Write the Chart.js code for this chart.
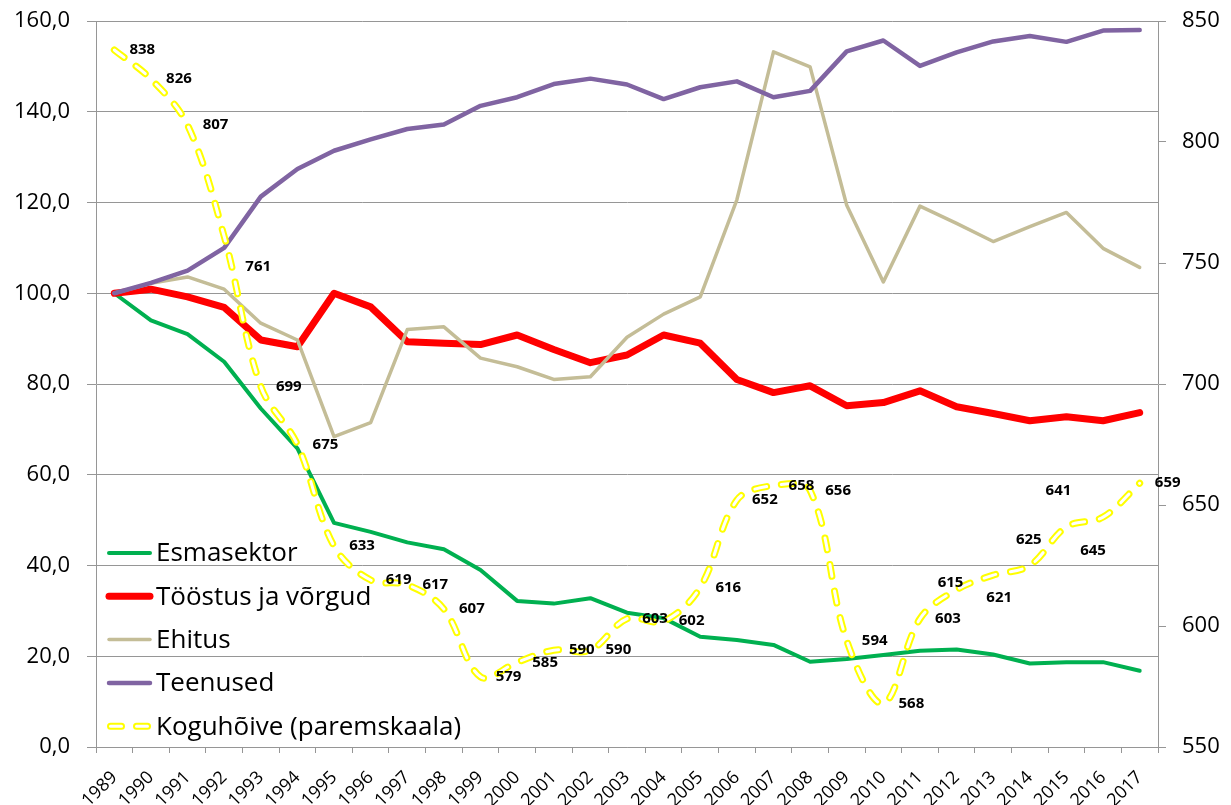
<!DOCTYPE html>
<html>
<head>
<meta charset="utf-8">
<script src="https://cdn.jsdelivr.net/npm/chart.js@4.4.1/dist/chart.umd.min.js"></script>
<style>
  html, body { margin: 0; padding: 0; background: #fff; }
  canvas { display: block; }
</style>
</head>
<body>
<canvas id="mainChart" width="1231" height="805"></canvas>
<script>
const years = ['1989', '1990', '1991', '1992', '1993', '1994', '1995', '1996', '1997', '1998',
  '1999', '2000', '2001', '2002', '2003', '2004', '2005', '2006', '2007', '2008',
  '2009', '2010', '2011', '2012', '2013', '2014', '2015', '2016', '2017'];

// left scale, index 1989 = 100
const esmasektor = [100, 94.0, 91.0, 84.9, 74.6, 65.8, 49.4, 47.4, 45.1, 43.6,
  39.0, 32.2, 31.6, 32.8, 29.6, 28.4, 24.3, 23.6, 22.5, 18.8,
  19.4, 20.3, 21.2, 21.5, 20.4, 18.4, 18.7, 18.7, 16.8];
const toostus = [100, 100.9, 99.2, 96.9, 89.7, 88.2, 100.0, 97.0, 89.3, 89.0,
  88.7, 90.8, 87.6, 84.7, 86.4, 90.8, 89.0, 81.0, 78.1, 79.6,
  75.2, 75.9, 78.5, 75.0, 73.5, 71.9, 72.8, 71.9, 73.7];
const ehitus = [100, 102.2, 103.6, 100.9, 93.4, 89.7, 68.4, 71.5, 92.0, 92.6,
  85.7, 83.8, 81.0, 81.6, 90.3, 95.4, 99.2, 120.6, 153.2, 149.9,
  119.4, 102.5, 119.2, 115.4, 111.4, 114.7, 117.8, 109.9, 105.7];
const teenused = [100, 102.3, 105.0, 110.0, 121.3, 127.4, 131.4, 133.9, 136.2, 137.2,
  141.3, 143.2, 146.1, 147.3, 146.0, 142.8, 145.4, 146.7, 143.2, 144.6,
  153.3, 155.7, 150.1, 153.1, 155.5, 156.7, 155.4, 157.9, 158.0];

// right scale, thousands
const koguhoive = [838, 826, 807, 761, 699, 675, 633, 619, 617, 607,
  579, 585, 590, 590, 603, 602, 616, 652, 658, 656,
  594, 568, 603, 615, 621, 625, 641, 645, 659];

// labels that were moved by hand in the original: index -> [dx, dy]
const labelMoves = { 3: [6, 30], 23: [-34, -7], 24: [-22, 23], 25: [-29, -26], 26: [-36, -36], 27: [-38, 34] };

const legendItems = ['Esmasektor', 'Tööstus ja võrgud', 'Ehitus', 'Teenused', 'Koguhõive (paremskaala)'];

const GREEN = '#00b050', RED = '#ff0000', TAN = '#c4bd97', PURPLE = '#8064a2', YELLOW = '#ffff00';
const GRID = '#969696';
const DASH = [12, 15];

Chart.defaults.font.family = "'Open Sans', 'DejaVu Sans', sans-serif";
Chart.defaults.color = '#000';

const labelPlugin = {
  id: 'pointLabels',
  afterDatasetsDraw(chart) {
    const ctx = chart.ctx;
    const meta = chart.getDatasetMeta(4);
    ctx.save();
    ctx.font = "bold 15px 'Open Sans', sans-serif";
    ctx.fillStyle = '#000';
    ctx.textAlign = 'center';
    ctx.textBaseline = 'middle';
    meta.data.forEach((pt, i) => {
      const mv = labelMoves[i] || [0, 0];
      ctx.fillText(String(koguhoive[i]), pt.x + 28 + mv[0], pt.y + mv[1]);
    });
    ctx.restore();
  }
};

const legendPlugin = {
  id: 'insideLegend',
  afterDatasetsDraw(chart) {
    const ctx = chart.ctx;
    const area = chart.chartArea;
    const x0 = area.left + 11, x1 = area.left + 56;
    const widths = [4, 7, 3.5, 4.5];
    const colors = [GREEN, RED, TAN, PURPLE];
    ctx.save();
    ctx.font = "26px 'Open Sans', sans-serif";
    ctx.textBaseline = 'middle';
    ctx.textAlign = 'left';
    legendItems.forEach((txt, i) => {
      const y = area.bottom - 194 + i * 43.3;
      ctx.lineCap = 'round';
      if (i < 4) {
        ctx.setLineDash([]);
        ctx.strokeStyle = colors[i];
        ctx.lineWidth = widths[i];
        ctx.beginPath();
        ctx.moveTo(x0 + 2, y);
        ctx.lineTo(x1 - 2, y);
        ctx.stroke();
      } else {
        ctx.setLineDash([11, 15]);
        ctx.strokeStyle = YELLOW;
        ctx.lineWidth = 7;
        ctx.beginPath();
        ctx.moveTo(x0 + 3.5, y);
        ctx.lineTo(x1 - 3, y);
        ctx.stroke();
        ctx.strokeStyle = '#fff';
        ctx.lineWidth = 3;
        ctx.beginPath();
        ctx.moveTo(x0 + 3.5, y);
        ctx.lineTo(x1 - 3, y);
        ctx.stroke();
        ctx.setLineDash([]);
      }
      ctx.fillStyle = '#000';
      ctx.fillText(txt, x1 + 4, y + 1);
    });
    ctx.restore();
  }
};

new Chart(document.getElementById('mainChart'), {
  type: 'line',
  data: {
    labels: years,
    datasets: [
      { label: 'Esmasektor', data: esmasektor, borderColor: GREEN, borderWidth: 4, yAxisID: 'y', order: 6 },
      { label: 'Tööstus ja võrgud', data: toostus, borderColor: RED, borderWidth: 7, yAxisID: 'y', order: 5 },
      { label: 'Ehitus', data: ehitus, borderColor: TAN, borderWidth: 3.5, yAxisID: 'y', order: 4 },
      { label: 'Teenused', data: teenused, borderColor: PURPLE, borderWidth: 4.5, yAxisID: 'y', order: 3 },
      { label: 'Koguhõive (paremskaala)', data: koguhoive, borderColor: YELLOW, borderWidth: 7,
        borderDash: DASH, borderCapStyle: 'round', tension: 0.35, yAxisID: 'y1', order: 2 },
      { label: 'inner', data: koguhoive, borderColor: '#ffffff', borderWidth: 3,
        borderDash: DASH, borderCapStyle: 'round', tension: 0.35, yAxisID: 'y1', order: 1 }
    ]
  },
  options: {
    responsive: false,
    animation: false,
    layout: { padding: { top: 21, left: 0, right: 0, bottom: 0 } },
    elements: {
      point: { radius: 0, hoverRadius: 0 },
      line: { borderJoinStyle: 'round', borderCapStyle: 'round', tension: 0 }
    },
    plugins: {
      legend: { display: false },
      tooltip: { enabled: false }
    },
    scales: {
      x: {
        offset: true,
        grid: { offset: true, drawOnChartArea: false, drawTicks: true, tickLength: 6, color: GRID },
        border: { color: GRID },
        ticks: { autoSkip: false, minRotation: 45, maxRotation: 45, padding: 14, font: { size: 18 }, color: '#000' },
        afterFit: s => { s.height = 58; s.paddingLeft = 0; s.paddingRight = 0; }
      },
      y: {
        position: 'left',
        min: 0, max: 160,
        ticks: { stepSize: 20, padding: 17, font: { size: 22 }, color: '#000',
          callback: v => v.toFixed(1).replace('.', ',') },
        grid: { color: GRID, tickLength: 9 },
        border: { color: GRID },
        afterFit: s => { s.width = 96; s.paddingTop = 0; s.paddingBottom = 0; }
      },
      y1: {
        position: 'right',
        min: 550, max: 850,
        ticks: { stepSize: 50, padding: 16, font: { size: 22 }, color: '#000' },
        grid: { drawOnChartArea: false, color: GRID, tickLength: 8 },
        border: { color: GRID },
        afterFit: s => { s.width = 73; s.paddingTop = 0; s.paddingBottom = 0; }
      }
    }
  },
  plugins: [labelPlugin, legendPlugin]
});
</script>
</body>
</html>
